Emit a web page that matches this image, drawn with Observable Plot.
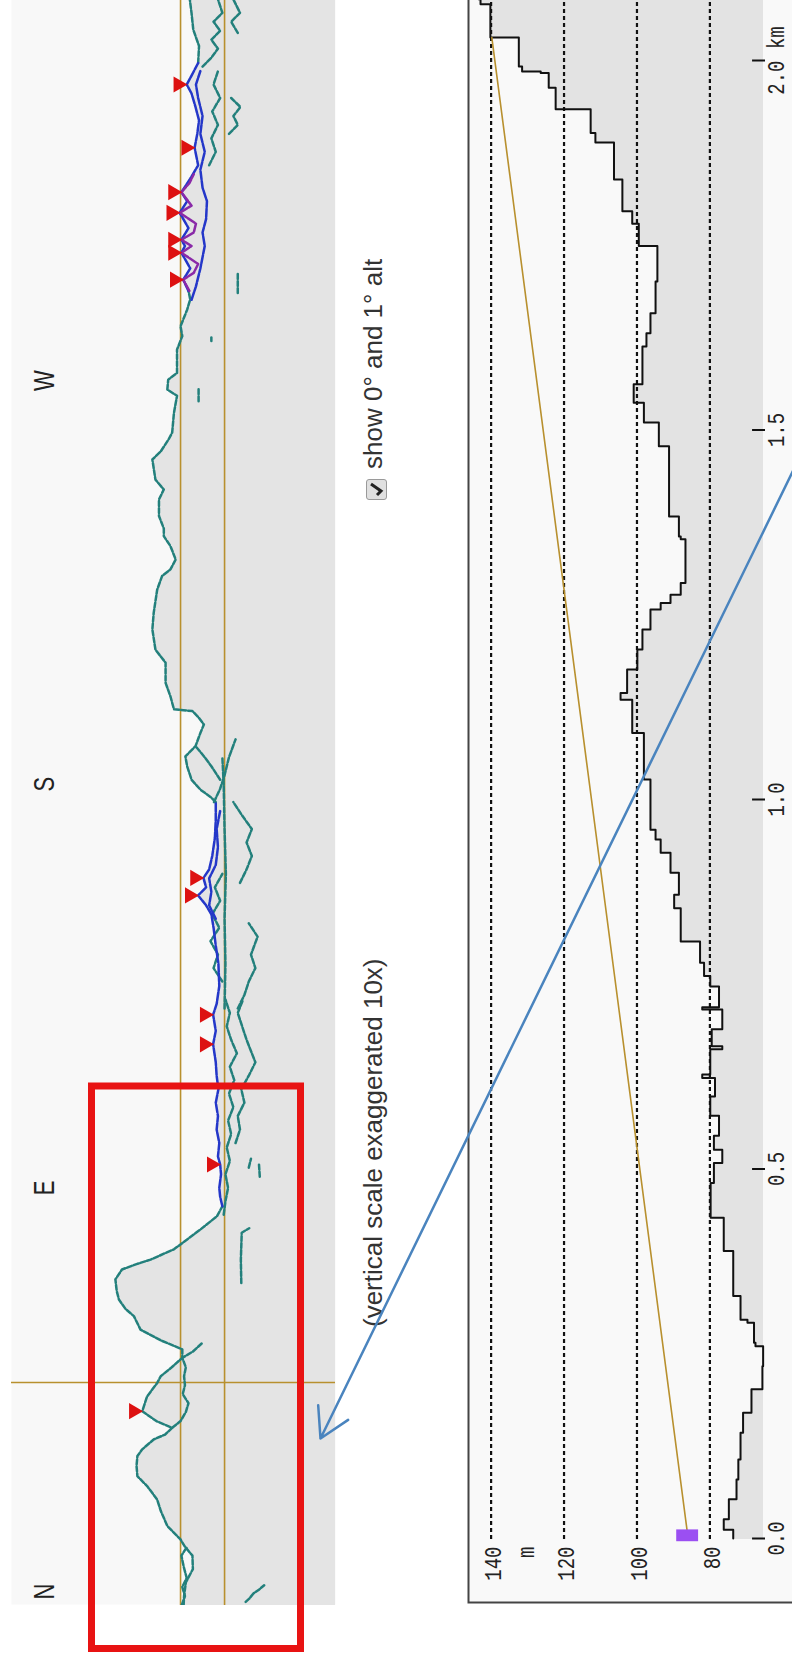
<!DOCTYPE html>
<html><head><meta charset="utf-8">
<script src="https://cdn.jsdelivr.net/npm/d3@7"></script>
<script src="https://cdn.jsdelivr.net/npm/@observablehq/plot@0.6"></script>
<style>
html,body{margin:0;padding:0;background:#fff;overflow:hidden;}
body{width:792px;height:1663px;position:relative;font-family:"Liberation Sans",Arial,sans-serif;}
#rot{position:absolute;left:0;top:0;width:1663px;height:792px;transform-origin:0 0;transform:translate(0px,1663px) rotate(-90deg);}
#pano,#profile{position:absolute;left:0;width:1663px;}
#pano{top:0}
#profile{top:440px}
#overlay{position:absolute;left:0;top:0;width:792px;pointer-events:none}
.cap{position:absolute;font-size:26px;line-height:30px;color:#333;white-space:nowrap;}
.cb{position:absolute;width:21px;height:21px;border:1px solid #9a9a9a;border-radius:3px;background:#e0e0e0;box-sizing:border-box;}
svg{display:block}
</style></head><body>
<div id="rot">
  <div id="pano"></div>
  <div class="cap" style="left:336px;top:358px">(vertical scale exaggerated 10x)</div>
  <div class="cb" style="left:1163px;top:366px"><svg width="19" height="19" viewBox="0 0 19 19"><path d="M4 10 L8 14 L15 4" stroke="#222" stroke-width="3" fill="none"/></svg></div>
  <div class="cap" style="left:1194px;top:358px">show 0° and 1° alt</div>
  <div id="profile"></div>
</div>
<div id="overlay"></div>
<script>
// ---------- Panorama (azimuth deg, altitude deg) ----------
const skyline = [[-3,0.93],[-1,0.92],[2,0.88],[5,0.72],[8,0.73],[10,0.9],[11.6,1.0],[14.6,1.3],[18,1.45],[20.5,1.53],[23.5,1.76],[25.7,1.98],[28,2.0],[30.2,1.98],[31.7,1.87],[33.9,1.61],[35,1.35],[36.5,1.19],[38,1.55],[40.2,1.87],[43.5,1.76],[46.5,1.53],[48,1.45],[50,1.2],[52.1,0.96],[54,0.96],[56,1.45],[58.4,1.91],[61.4,2.06],[63,2.25],[65.1,2.4],[67,2.45],[69.6,2.48],[71.8,2.33],[73,2.0],[74,1.68],[76.3,1.15],[78.5,0.85],[80.7,0.55],[83.7,0.17],[85.9,0.05],[88,0.1],[90,0.12],[93,0.08],[95.2,0.1],[97,0.15],[100,0.12],[103,0.18],[106,0.15],[109,0.2],[112,0.14],[115,0.18],[118,0.2],[122,0.26],[125,0.2],[128.6,0.26],[131,0.18],[135,0.12],[140,0.14],[144,0.2],[148,0.25],[151,0.3],[153,0.42],[155.2,0.6],[157,0.42],[159.1,0.48],[161,0.35],[164,0.28],[168,0.22],[172,0.2],[176,0.2],[177,0.3],[178.8,0.55],[181,0.75],[184,0.85],[186.2,0.89],[188.5,0.66],[191.4,0.55],[193.3,0.47],[195,0.6],[196.3,0.73],[196.7,1.15],[199.6,1.23],[202.6,1.34],[207.1,1.34],[210,1.57],[214.5,1.64],[218.2,1.61],[223.4,1.53],[226.4,1.42],[227.9,1.23],[230.1,1.11],[233.1,1.23],[235.3,1.38],[237,1.38],[239.8,1.49],[243.5,1.49],[245.7,1.38],[247.9,1.57],[252.4,1.64],[254.2,1.45],[256.9,1.27],[258.4,1.19],[262.8,1.15],[266.6,1.08],[268,1.3],[270.2,1.28],[271.7,1.08],[276.9,1.08],[279.9,0.96],[282.1,1.0],[285.8,0.85],[288.1,0.78],[290,0.82],[292.5,0.94],[295,0.78],[298.5,0.98],[300,0.9],[301.4,0.98],[304,0.82],[307.4,1.02],[310,0.85],[312,0.98],[315,0.78],[318,0.6],[321.9,0.68],[325,0.62],[328,0.58],[331,0.66],[334,0.75],[336,0.86],[338,0.75],[340.8,0.6],[344.6,0.58],[348.2,0.71],[351.9,0.75],[355,0.79],[360,0.8]];
const skylineBands = [[-5,86,"far"],[86,176,"mid"],[176,290,"far"],[290,340,"mid"],[340,365,"far"]];
const farRidges = [
  [[36.5,1.19],[38,1.0],[40,0.88],[42,0.82],[44,0.95],[46,0.9],[48,0.92],[50,0.88],[52.1,0.96],[53.5,0.72],[55.3,0.52]],
  [[-3,0.97],[-1,0.9],[1,0.96],[3,0.86],[5.6,0.93],[8,0.98],[10,0.85]],
  [[-2.3,-0.48],[-1.6,-0.56],[-0.4,-0.66],[0.4,-0.78],[1.4,-0.9]],
  [[68.8,-0.38],[74,-0.37],[80,-0.39],[81,-0.56]],
  [[84,0.02],[87,-0.02],[90,-0.08],[93,-0.02],[96,-0.12],[99,-0.05],[102,-0.15],[105,-0.08],[108,-0.2],[111,-0.1],[114,-0.22],[117,-0.12],[120,-0.28],[123,-0.15],[126,-0.05],[129,-0.12],[132,-0.02]],
  [[100,-0.25],[103,-0.35],[106,-0.3],[109,-0.45],[112,-0.38],[115,-0.55],[118,-0.7],[120,-0.62],[123,-0.5],[126,-0.4],[129,-0.3],[132,-0.42]],
  [[92.5,-0.8],[95.5,-0.78]],
  [[94.5,-0.55],[96.5,-0.6]],
  [[130,0.0],[140,-0.02],[150,0.0],[160,-0.03],[170,0.0],[180,0.02],[186,0.05]],
  [[136,0.05],[139,0.25],[142,0.15],[145,0.32],[148,0.12],[151,0.28],[154,0.1],[157,0.22],[160,0.05]],
  [[130,-0.3],[133,-0.45],[136,-0.55],[139,-0.7],[142,-0.6],[146,-0.75],[149,-0.55]],
  [[158,-0.35],[161,-0.5],[164,-0.62],[167,-0.5],[170,-0.62],[173,-0.4],[176,-0.2]],
  [[176,0.24],[179,0.1],[182,0.0],[186,-0.1],[190,-0.25]],
  [[181,0.1],[184,0.3],[186,0.45],[188.5,0.66]],
  [[265.4,0.59],[268.4,0.59]],
  [[278.8,0.3],[279.6,0.3]],
  [[340,0.5],[342,0.3],[344,0.15],[346,0.3],[348,0.1],[350,0.25],[352,0.05],[355,0.15],[360,0.1]],
  [[347.5,-0.3],[350,-0.15],[352,-0.35],[355,-0.2],[360,-0.3]],
  [[325,-0.1],[327,-0.3],[329,-0.2],[331,-0.36],[333,-0.15]],
  [[318,0.35],[321,0.2],[324,0.3],[327,0.15],[330,0.28],[333,0.1],[336,0.25],[339,0.15]],
  [[289.5,-0.3],[294,-0.3]]
];
const midRidges = [
  [[288,0.75],[291,0.65],[295,0.55],[300,0.45],[303,0.5],[306,0.42],[310,0.4],[313,0.5],[317,0.55],[321,0.45],[325,0.55],[329,0.5],[333,0.6],[336,0.65],[339,0.55]],
  [[150,0.2],[153,0.35],[156,0.3],[159,0.35],[162,0.2],[166,0.15],[170,0.18],[174,0.1]]
];
const nearRidges = [
  [[290,0.8],[292.5,0.94],[294,0.7],[296,0.6],[298.5,0.98],[300,0.75],[301.4,0.98],[303,0.7],[305,0.65],[307.4,1.02],[309,0.75],[312,0.98],[314,0.8],[316,0.7]]
];
const peaks = [[40.2,1.87],[95.2,0.1],[122,0.26],[128.6,0.26],[155.2,0.6],[159.1,0.48],[292.5,0.94],[298.5,0.98],[301.4,0.98],[307.4,1.02],[312,0.98],[321.9,0.68],[336,0.86]];
const compassAz = [0, 90, 180, 270];
const compassLabels = ["N", "E", "S", "W"];
const altLines = [0, 1];
const bearing = [46.6];

// ---------- Profile (distance km, elevation m), step-after ----------
const profileDist = [0.000,0.012,0.026,0.053,0.080,0.107,0.143,0.170,0.202,0.233,0.260,0.265,0.292,0.296,0.328,0.389,0.434,0.481,0.508,0.526,0.545,0.572,0.598,0.623,0.628,0.662,0.666,0.689,0.716,0.719,0.747,0.761,0.779,0.808,0.853,0.871,0.901,0.928,0.946,0.959,1.027,1.090,1.135,1.144,1.176,1.203,1.230,1.257,1.266,1.277,1.293,1.352,1.356,1.383,1.478,1.510,1.537,1.562,1.613,1.631,1.658,1.701,1.749,1.779,1.796,1.839,1.889,1.902,1.934,1.963,1.983,1.985,1.992,2.031,2.076,2.083,2.25];
const profileElev = [73.6,76.2,74.8,72.7,72.2,71.6,70.9,68.6,65.6,65.4,67.5,67.9,69.7,71.6,73.6,76.2,79.8,78.9,76.6,78.9,77.5,79.9,78.6,82.1,79.9,76.6,79.5,76.6,82.1,77.5,79.9,81.6,82.7,88.0,89.8,88.5,90.8,93.5,94.9,96.3,98.1,101.3,104.5,102.7,99.9,98.5,96.3,93.5,90.8,88.0,86.7,88.0,88.5,91.2,94.0,98.1,100.9,98.5,97.4,96.3,94.9,94.4,99.5,101.3,104.0,106.3,111.4,112.7,122.3,124.2,126.4,131.5,132.4,140.2,142.9,143.5,143.5];
const elevTicks = [80, 100, 120, 140];
const distTicks = [0, 0.5, 1.0, 1.5, 2.0];
const distTickLabels = ["0.0", "0.5", "1.0", "1.5", "2.0 km"];
const observer = {d: 0.005, elev: 86.1};
const target = {d: 2.031, elev: 139.8};

// ---------- Annotations (page pixels) ----------
const annotBox = [{x1: 91.5, y1: 1086, x2: 300.5, y2: 1648.5}];
const annotArrow = [{x1: 800, y1: 455, x2: 320, y2: 1438}];

const colors = {far: "#23807c", mid: "#2437c9", near: "#8a2aa8"};
const orange = "#b8902e";

function bandOf(az) { for (const [a, b, k] of skylineBands) if (az >= a && az < b) return k; return "far"; }
const rows = [];
let id = 0, run = null;
for (let i = 0; i < skyline.length - 1; i++) {
  const p = skyline[i], q = skyline[i + 1];
  const k = bandOf((p[0] + q[0]) / 2);
  if (!run || run !== k) { id++; run = k; rows.push({az: p[0], alt: p[1], id, kind: k}); }
  rows.push({az: q[0], alt: q[1], id, kind: k});
}
for (const [arr, kind] of [[farRidges, "far"], [midRidges, "mid"], [nearRidges, "near"]])
  for (const r of arr) { id++; for (const p of r) rows.push({az: p[0], alt: p[1], id, kind}); }

const lineMark = kind => Plot.line(rows.filter(r => r.kind === kind), {x: "az", y: "alt", z: "id", stroke: colors[kind], strokeWidth: 2.5, strokeDasharray: kind === "far" ? "5,2" : "8,1.5", clip: true});

// stretch glyphs vertically (the reference's chart lettering is tall and narrow)
function stretchText(svg, sy) {
  svg.querySelectorAll("text").forEach(t => {
    const tr = t.getAttribute("transform");
    if (tr) t.setAttribute("transform", `${tr} scale(1,${sy})`);
  });
}

const pano = Plot.plot({
  width: 1663, height: 345,
  marginTop: 11, marginBottom: 10, marginLeft: 58, marginRight: 0,
  x: {domain: [0, 360], range: [71, 71 + 4.485 * 360], axis: null},
  y: {domain: [-2.52, 4.84], range: [335, 11], axis: null},
  style: {background: "transparent", fontFamily: "Liberation Sans, Arial, sans-serif", maxWidth: "none", overflow: "hidden"},
  marks: [
    Plot.frame({fill: "#f8f8f8"}),
    Plot.areaY(skyline, {x: d => d[0], y1: -2.52, y2: d => d[1], fill: "#e4e4e4", clip: true}),
    Plot.ruleY(altLines, {stroke: orange, strokeWidth: 1.6}),
    Plot.ruleX(bearing, {stroke: orange, strokeWidth: 1.6}),
    lineMark("far"), lineMark("mid"), lineMark("near"),
    Plot.dot(peaks, {x: d => d[0], y: d => d[1], symbol: "triangle", r: 6, rotate: 180, dy: -8.5, fill: "#dd1111", stroke: "none"}),
    Plot.text(compassAz, {x: d => d, frameAnchor: "top", dy: 22, text: (d, i) => compassLabels[i], fontSize: 22, fill: "#222"})
  ]
});
stretchText(pano, 1.3);
document.getElementById("pano").append(pano);

const profile = profileDist.map((d, i) => ({d, elev: profileElev[i]}));
const prof = Plot.plot({
  width: 1663, height: 352,
  marginLeft: 60, marginTop: 28, marginRight: -10, marginBottom: -10,
  x: {domain: [0, 2.25], range: [124, 124 + 739 * 2.25], axis: null},
  y: {domain: [65.3, 146.2], range: [323, 28], axis: null},
  style: {background: "transparent", fontFamily: "Liberation Mono, monospace", maxWidth: "none", overflow: "hidden"},
  marks: [
    Plot.frame({fill: "#f9f9f9", stroke: "#444", strokeWidth: 2}),
    Plot.areaY(profile, {x: "d", y1: 65.3, y2: "elev", curve: "step-after", fill: "#e3e3e3"}),
    Plot.ruleY(elevTicks, {x1: 0, x2: 2.25, stroke: "#111", strokeWidth: 2.2, strokeDasharray: "4,3"}),
    Plot.lineY(profile, {x: "d", y: "elev", curve: "step-after", stroke: "#111", strokeWidth: 2}),
    Plot.line([observer, target], {x: "d", y: "elev", stroke: orange, strokeWidth: 1.6}),
    Plot.rect([observer], {x1: d => d.d - 0.008, x2: d => d.d + 0.008, y1: d => d.elev - 3, y2: d => d.elev + 3, fill: "#9b4ff2"}),
    Plot.ruleX(distTicks, {y1: 68.3, y2: 64.75, stroke: "#111", strokeWidth: 2}),
    Plot.text(distTicks, {x: d => d, y: 65.3, dy: 12.5, text: (d, i) => distTickLabels[i], fontSize: 19, fill: "#222"}),
    Plot.text(elevTicks, {x: 0, y: d => d, dx: -8, dy: 2, textAnchor: "end", text: d => String(d), fontSize: 19, fill: "#222"}),
    Plot.text(["m"], {x: 0, y: 130.5, dx: -8, textAnchor: "end", text: d => d, fontSize: 19, fill: "#222"})
  ]
});
stretchText(prof, 1.3);
document.getElementById("profile").append(prof);

const overlay = Plot.plot({
  width: 792, height: 1663, margin: 0,
  x: {domain: [0, 792], range: [0, 792], axis: null},
  y: {domain: [0, 1663], range: [0, 1663], axis: null},
  style: {background: "transparent"},
  marks: [
    Plot.rect(annotBox, {x1: "x1", y1: "y1", x2: "x2", y2: "y2", fill: "none", stroke: "#e81313", strokeWidth: 7}),
    Plot.arrow(annotArrow, {x1: "x1", y1: "y1", x2: "x2", y2: "y2", stroke: "#4a84be", strokeWidth: 2.5, headLength: 20, headAngle: 60})
  ]
});
document.getElementById("overlay").append(overlay);
</script>
</body></html>
